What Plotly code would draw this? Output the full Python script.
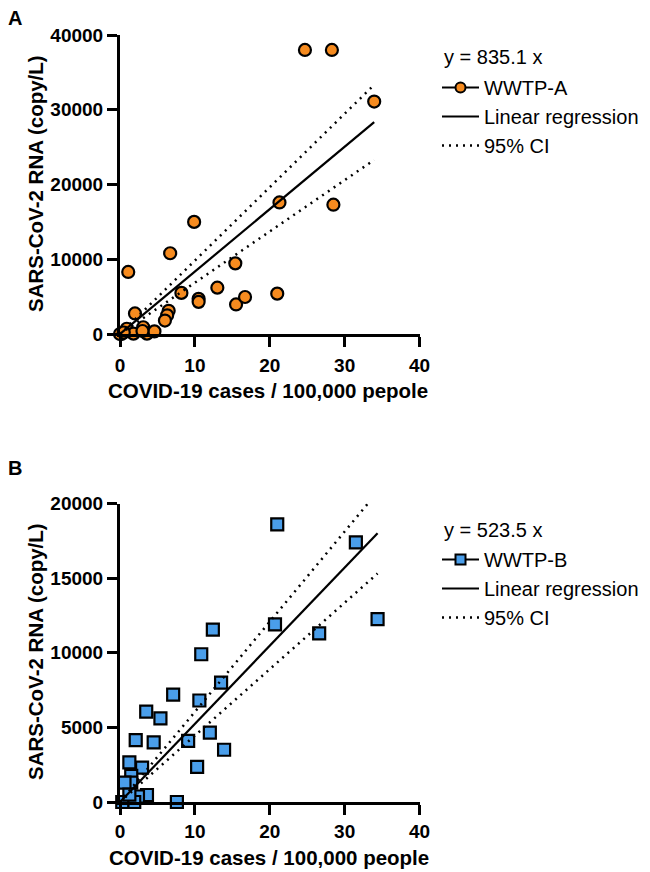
import numpy as np
import plotly.graph_objects as go

# ---------------- data ----------------
# Panel A (WWTP-A)
xA = [24.7, 28.3, 33.95, 21.3, 28.5, 9.9, 6.7, 1.1, 15.4, 8.2, 13.0, 10.5, 10.5,
      15.5, 16.7, 21.0, 6.5, 6.3, 6.0, 2.0, 0.9, 1.8, 3.1, 3.6, 4.6, 0.2, 0.0, 0.5, 3.0]
yA = [38000, 38000, 31100, 17600, 17300, 15000, 10800, 8300, 9450, 5500, 6200, 4700, 4300,
      3950, 4950, 5400, 3100, 2500, 1800, 2750, 700, 50, 900, 50, 350, 0, 0, 200, 400]
slopeA = 835.1
ciA_upper = 982.0
ciA_lower = 686.0

# Panel B (WWTP-B)
xB = [21.0, 31.5, 34.4, 20.7, 26.6, 12.4, 10.85, 13.5, 7.1, 10.6, 3.5, 5.4, 2.1, 4.5,
      9.1, 12.0, 13.9, 10.3, 1.25, 2.95, 1.5, 1.5, 0.6, 3.6, 2.4, 1.9, 0.3, 7.6, 1.25]
yB = [18600, 17400, 12250, 11900, 11300, 11550, 9900, 8000, 7200, 6800, 6050, 5600, 4150, 4000,
      4100, 4650, 3500, 2350, 2650, 2300, 1750, 1300, 1300, 470, 370, 0, 0, 0, 500]
slopeB = 523.5
ciB_upper = 604.0
ciB_lower = 445.0

x_ticks = [0, 10, 20, 30, 40]
yA_ticks = [0, 10000, 20000, 30000, 40000]
yB_ticks = [0, 5000, 10000, 15000, 20000]

# ---------------- styling ----------------
# page body has an 8px margin, so the figure is offset by (8, 8) in the window
OX, OY = 8, 8
W, H = 642, 864
FONT = "Liberation Sans, Arial, sans-serif"
ORANGE = "#F68B1F"
BLUE = "#4A9EEA"

def px_x(p):
    return (p - OX) / W

def px_y(p):
    return 1 - (p - OY) / H

fig = go.Figure()

def add_panel(xs, ys, slope, up, lo, color, symbol, name, xa, ya, legend):
    xfit = np.array([0.0, max(xs)])
    fig.add_trace(go.Scatter(
        x=xs, y=ys, mode="markers", xaxis=xa, yaxis=ya, showlegend=False,
        cliponaxis=False,
        marker=dict(symbol=symbol, size=12, color=color, line=dict(color="black", width=2.2)),
    ))
    fig.add_trace(go.Scatter(
        x=[None], y=[None], mode="lines+markers", xaxis=xa, yaxis=ya, name=name,
        legend=legend,
        marker=dict(symbol=symbol, size=10, color=color, line=dict(color="black", width=2)),
        line=dict(color="black", width=2.2),
    ))
    fig.add_trace(go.Scatter(
        x=xfit, y=slope * xfit, mode="lines", xaxis=xa, yaxis=ya, name="Linear regression",
        legend=legend, line=dict(color="black", width=2.2),
    ))
    fig.add_trace(go.Scatter(
        x=xfit, y=up * xfit, mode="lines", xaxis=xa, yaxis=ya, name="95% CI",
        legend=legend, line=dict(color="black", width=2.5, dash="2px,5px"),
    ))
    fig.add_trace(go.Scatter(
        x=xfit, y=lo * xfit, mode="lines", xaxis=xa, yaxis=ya, showlegend=False,
        line=dict(color="black", width=2.5, dash="2px,5px"),
    ))

add_panel(xA, yA, slopeA, ciA_upper, ciA_lower, ORANGE, "circle", "WWTP-A", "x", "y", "legend")
add_panel(xB, yB, slopeB, ciB_upper, ciB_lower, BLUE, "square", "WWTP-B", "x2", "y2", "legend2")

axis_common = dict(
    showline=True, linewidth=3, linecolor="black", ticks="outside", ticklen=10,
    tickwidth=3, tickcolor="black", showgrid=False, zeroline=False, automargin=False,
    tickfont=dict(family=FONT, size=19, color="black", weight="bold"),
)

legend_common = dict(
    xanchor="left", yanchor="top", font=dict(family=FONT, size=20, color="black"),
    bgcolor="rgba(0,0,0,0)", tracegroupgap=0, itemwidth=37,
)

xdom = [px_x(120), px_x(419.5)]
fig.update_layout(
    width=W, height=H, margin=dict(l=0, r=0, t=0, b=0, autoexpand=False),
    paper_bgcolor="white", plot_bgcolor="white",
    xaxis=dict(domain=xdom, range=[0, 40], tickvals=x_ticks, ticktext=[str(v) for v in x_ticks],
               anchor="y", ticklabelstandoff=2, **axis_common),
    yaxis=dict(domain=[px_y(334), px_y(35)], range=[0, 40000], tickvals=yA_ticks,
               ticktext=[str(v) for v in yA_ticks], anchor="x", **axis_common),
    xaxis2=dict(domain=xdom, range=[0, 40], tickvals=x_ticks, ticktext=[str(v) for v in x_ticks],
                anchor="y2", **axis_common),
    yaxis2=dict(domain=[px_y(802), px_y(503.5)], range=[0, 20000], tickvals=yB_ticks,
                ticktext=[str(v) for v in yB_ticks], anchor="x2", **axis_common),
    legend=dict(x=px_x(437), y=px_y(68), **legend_common),
    legend2=dict(x=px_x(437), y=px_y(540), **legend_common),
)

ann_font = dict(family=FONT, size=20.5, color="black", weight="bold")
annotations = [
    dict(text="A", x=px_x(15), y=px_y(18), font=dict(family=FONT, size=20, color="black", weight="bold")),
    dict(text="B", x=px_x(15), y=px_y(468), font=dict(family=FONT, size=20, color="black", weight="bold")),
    dict(text="SARS-CoV-2 RNA (copy/L)", x=px_x(35), y=px_y(184), textangle=-90, font=ann_font),
    dict(text="SARS-CoV-2 RNA (copy/L)", x=px_x(35), y=px_y(652), textangle=-90, font=ann_font),
    dict(text="COVID-19 cases / 100,000 pepole", x=px_x(268), y=px_y(390), font=ann_font),
    dict(text="COVID-19 cases / 100,000 people", x=px_x(269), y=px_y(857), font=ann_font),
    dict(text="y = 835.1 x", x=px_x(442), y=px_y(57), xanchor="left",
         font=dict(family=FONT, size=20, color="black")),
    dict(text="y = 523.5 x", x=px_x(442), y=px_y(530), xanchor="left",
         font=dict(family=FONT, size=20, color="black")),
]
for a in annotations:
    a.setdefault("xanchor", "center")
    a.update(xref="paper", yref="paper", showarrow=False, yanchor="middle")
fig.update_layout(annotations=annotations)

fig.write_html("out.html")
